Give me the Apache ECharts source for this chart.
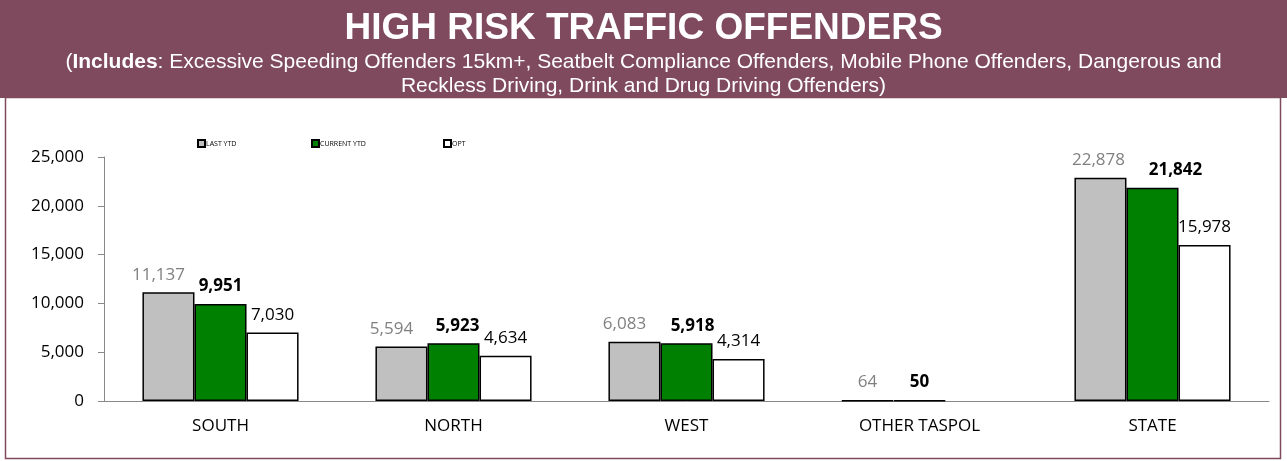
<!DOCTYPE html>
<html><head><meta charset="utf-8">
<script src="https://cdn.jsdelivr.net/npm/echarts@6/dist/echarts.min.js"></script>
<style>html,body{margin:0;padding:0;background:#fff}#c{width:1287px;height:461px}</style>
</head><body><div id="c"></div>
<script>
const categories = ['SOUTH', 'NORTH', 'WEST', 'OTHER TASPOL', 'STATE'];
const lastYtd = [11137, 5594, 6083, 64, 22878];
const currentYtd = [9951, 5923, 5918, 50, 21842];
const opt = [7030, 4634, 4314, null, 15978];
const seriesNames = ['LAST YTD', 'CURRENT YTD', 'OPT'];

// label nudges (style only, px)
const lastShift = [-10, -10, -10, 0, -2];
const curShift = [0, 4, 6, 0, 23];

const chart = echarts.init(document.getElementById('c'), null, {renderer: 'canvas'});
const fmt = v => v.toLocaleString('en-US');
const labelFont = '"Open Sans", sans-serif';
const arial = '"Liberation Sans", Arial, sans-serif';
function lab(color, weight) {
  return {show: true, position: 'top', distance: 9, color: color, fontWeight: weight,
    fontSize: 17, fontFamily: labelFont, formatter: p => p.value == null ? '' : fmt(p.value)};
}
function withShift(vals, shifts) {
  return vals.map((v, i) => ({value: v, label: {offset: [shifts[i], 0]}}));
}
function leg(name, left) {
  return {data: [name], top: 139, left: left, itemWidth: 7, itemHeight: 7, icon: 'rect', padding: 0,
    textStyle: {fontSize: 7, color: '#000', fontFamily: labelFont, padding: [0, 0, 0, -4]}};
}
chart.setOption({
  animation: false,
  backgroundColor: '#fff',
  graphic: [
    {type: 'rect', shape: {x: 0, y: 0, width: 1287, height: 98}, style: {fill: '#7F4A5E'}, z: -10},
    {type: 'rect', shape: {x: 5.5, y: 97.5, width: 1275, height: 361}, style: {fill: 'none', stroke: '#7F4A5E', lineWidth: 1.5}, z: -9}
  ],
  title: {
    text: 'HIGH RISK TRAFFIC OFFENDERS',
    subtext: '({b|Includes}: Excessive Speeding Offenders 15km+, Seatbelt Compliance Offenders, Mobile Phone Offenders, Dangerous and\nReckless Driving, Drink and Drug Driving Offenders)',
    left: 'center', top: 10, itemGap: 3, padding: [0, 0, 0, 0],
    textStyle: {color: '#fff', fontSize: 37, fontWeight: 'bold', fontFamily: arial},
    subtextStyle: {color: '#fff', fontSize: 21, lineHeight: 24, align: 'center', fontFamily: arial,
      rich: {b: {color: '#fff', fontSize: 21, fontWeight: 'bold', fontFamily: arial}}}
  },
  legend: [leg(seriesNames[0], 197), leg(seriesNames[1], 311), leg(seriesNames[2], 443)],
  grid: {left: 104, right: 18, top: 157, bottom: 60},
  xAxis: {
    type: 'category', data: categories,
    axisLine: {lineStyle: {color: '#888'}},
    axisTick: {show: false},
    axisLabel: {color: '#000', fontSize: 17, fontFamily: labelFont, margin: 17}
  },
  yAxis: {
    type: 'value', min: 0, max: 25000, interval: 5000,
    axisLine: {show: true, lineStyle: {color: '#888'}},
    axisTick: {show: true, length: 6, lineStyle: {color: '#888'}},
    splitLine: {show: false},
    axisLabel: {color: '#000', fontSize: 17, fontFamily: labelFont, margin: 20, formatter: v => fmt(v)}
  },
  series: [
    {name: seriesNames[0], type: 'bar', data: withShift(lastYtd, lastShift), barGap: 0, barCategoryGap: '33%',
      itemStyle: {color: '#C0C0C0', borderColor: '#000', borderWidth: 1.5}, label: lab('#808080', 'normal')},
    {name: seriesNames[1], type: 'bar', data: withShift(currentYtd, curShift),
      itemStyle: {color: '#008000', borderColor: '#000', borderWidth: 1.5}, label: lab('#000', 'bold')},
    {name: seriesNames[2], type: 'bar', data: opt,
      itemStyle: {color: '#fff', borderColor: '#000', borderWidth: 1.5}, label: lab('#000', 'normal')}
  ]
});
</script></body></html>
